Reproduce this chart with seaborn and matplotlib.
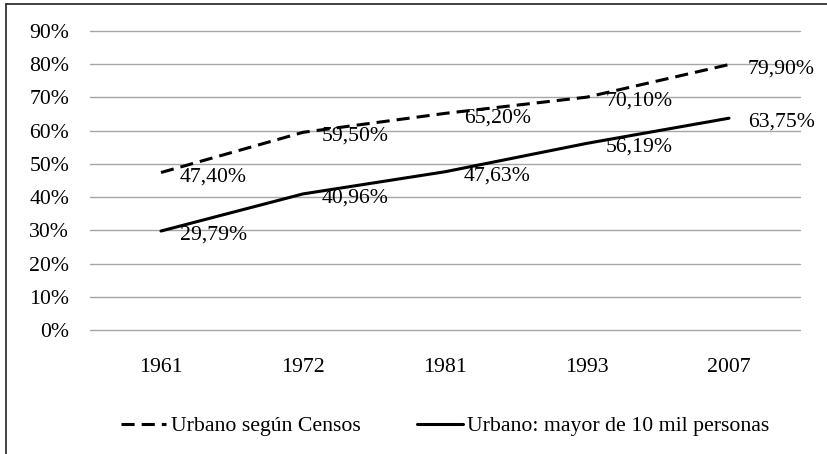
import pandas as pd
import numpy as np
import matplotlib
matplotlib.use('Agg')
import matplotlib.pyplot as plt
import seaborn as sns
from matplotlib.lines import Line2D

# Chart data
years = ['1961', '1972', '1981', '1993', '2007']
censos = [47.40, 59.50, 65.20, 70.10, 79.90]
mayor_10mil = [29.79, 40.96, 47.63, 56.19, 63.75]
series_names = ['Urbano según Censos', 'Urbano: mayor de 10 mil personas']
y_ticks = [0, 10, 20, 30, 40, 50, 60, 70, 80, 90]

sns.set_theme(style='white')
plt.rcParams['font.family'] = ['Liberation Serif', 'DejaVu Serif']
FS = 15.7

# Long format for seaborn
df = pd.DataFrame({
    'pos': list(range(len(years))) * 2,
    'value': censos + mayor_10mil,
    'serie': [series_names[0]] * len(years) + [series_names[1]] * len(years),
})

fig = plt.figure(figsize=(8.27, 4.54), dpi=100)
ax = fig.add_axes([90 / 827, 1 - 330 / 454, 710 / 827, 299 / 454])

dash_pat = (4.3, 2.3)
sns.lineplot(data=df, x='pos', y='value', style='serie',
             dashes={series_names[0]: dash_pat, series_names[1]: ''},
             color='black', linewidth=2.2, legend=False, ax=ax)

# Data labels to the right of each point
for vals in [censos, mayor_10mil]:
    for i, v in enumerate(vals):
        ax.annotate(f'{v:.2f}'.replace('.', ',') + '%', (i, v),
                    xytext=(13.5, -3), textcoords='offset points',
                    ha='left', va='center', fontsize=FS, color='black')

ax.set_xlim(-0.5, len(years) - 0.5)
ax.set_ylim(0, 90)
ax.set_yticks(y_ticks)
ax.set_yticklabels([f'{t}%' for t in y_ticks])
ax.set_xticks(range(len(years)))
ax.set_xticklabels(years)
ax.tick_params(axis='y', length=0, pad=15, labelsize=FS, labelcolor='black')
ax.tick_params(axis='x', length=0, pad=20, labelsize=FS, labelcolor='black')
ax.set_xlabel('')
ax.set_ylabel('')
ax.grid(axis='y', color='#a6a6a6', linewidth=1.0)
ax.set_axisbelow(True)
for gl in ax.get_ygridlines():
    gl.set_clip_on(False)
for s in ax.spines.values():
    s.set_visible(False)

handles = [Line2D([], [], color='black', linewidth=2.2, linestyle=(0, dash_pat)),
           Line2D([], [], color='black', linewidth=2.2)]
fig.legend(handles, series_names, loc='center', bbox_to_anchor=(445 / 827, 1 - 426 / 454),
           ncol=2, frameon=False, fontsize=FS, handlelength=2.1,
           handletextpad=0.2, columnspacing=2.6, labelcolor='black')

# Outer chart border (top and left visible)
fig.add_artist(Line2D([6 / 827, 1.0], [1 - 4 / 454, 1 - 4 / 454],
                      transform=fig.transFigure, color='#222222', linewidth=1.2))
fig.add_artist(Line2D([6 / 827, 6 / 827], [0, 1 - 4 / 454],
                      transform=fig.transFigure, color='#222222', linewidth=1.2))

fig.savefig('out.png', dpi=100)
